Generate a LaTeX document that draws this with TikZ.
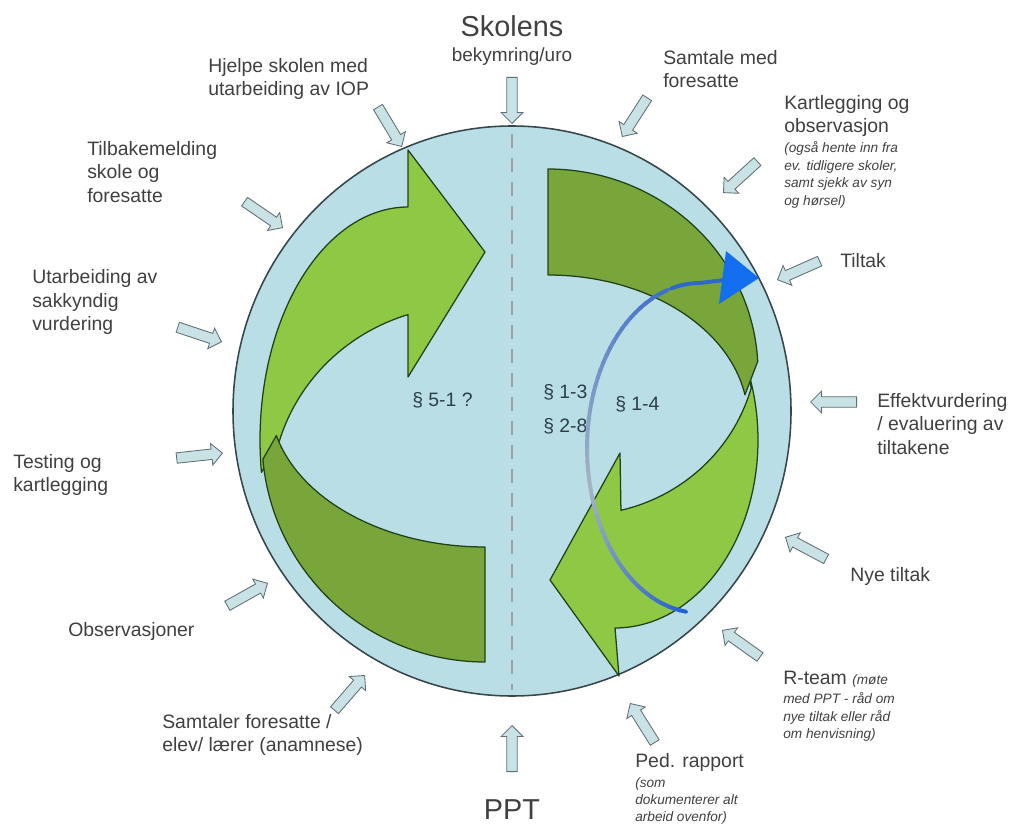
\documentclass[tikz,border=0pt]{standalone}
\usepackage{fontspec}
\setmainfont{Liberation Sans}
\usetikzlibrary{shapes.arrows,shapes.geometric}
\definecolor{circfill}{RGB}{185,222,230}
\definecolor{circline}{RGB}{55,70,72}
\definecolor{lgreen}{RGB}{143,200,68}
\definecolor{dgreen}{RGB}{120,166,58}
\definecolor{gline}{RGB}{35,65,25}
\definecolor{arrfill}{RGB}{200,226,230}
\definecolor{arrline}{RGB}{95,110,115}
\definecolor{txt}{RGB}{64,64,64}
\definecolor{partxt}{RGB}{45,62,72}
\definecolor{dashc}{RGB}{160,160,165}
\definecolor{arcblue}{RGB}{35,95,205}
\definecolor{arcgray}{RGB}{165,180,195}
\definecolor{headblue}{RGB}{20,110,240}
\begin{document}
\begin{tikzpicture}[x=0.025cm, y=-0.025cm,
  lbl/.style={font=\fontsize{13.8}{16.7}\selectfont, text=txt, align=left, inner sep=0pt, anchor=west},
  sml/.style={font=\fontsize{9.7}{12.4}\selectfont\itshape, text=txt, align=left, inner sep=0pt, anchor=west},
  big/.style={font=\fontsize{20.5}{24}\selectfont, text=txt, inner sep=0pt},
  mid/.style={font=\fontsize{13.5}{16}\selectfont, text=txt, inner sep=0pt},
  parag/.style={font=\fontsize{13.8}{16.7}\selectfont, text=partxt, inner sep=0pt, anchor=west},
  sarr/.style={single arrow, draw=arrline, fill=arrfill, line width=0.6pt, minimum height=1.15cm, inner xsep=0pt, inner ysep=0.12cm, single arrow head extend=0.14cm, anchor=tip, rotate=#1},
  grn/.style={draw=gline, line width=0.9pt, line join=round}]
\fill[white] (0,0) rectangle (1010,826);
\useasboundingbox (0,0) rectangle (1010,826);

% main circle
\node[draw=circline, fill=circfill, line width=1.1pt, ellipse, minimum width=558*0.025cm, minimum height=570*0.025cm, inner sep=0pt] (circ) at (512,411) {};
\draw[dashc, line width=1.8pt, dash pattern=on 10pt off 7pt] (512,134) coordinate (dtop) -- (512,690) coordinate (dbot);

% left light green arrow
\filldraw[grn, fill=lgreen] plot[domain=270:172,samples=60] ({408+148*cos(\x)},{440+233*sin(\x)})
  -- plot[domain=197:252.7,samples=40] ({466+195*cos(\x)},{496+190*sin(\x)})
  -- (408,377) -- (485,252) -- (408,150) -- cycle;
% left dark green
\filldraw[grn, fill=dgreen] plot[domain=175:90,samples=60] ({485+223*cos(\x)},{440+222*sin(\x)})
  -- plot[domain=90:166,samples=50] ({485+215*cos(\x)},{400+147*sin(\x)}) -- cycle;

% right light green arrow
\filldraw[grn, fill=lgreen] plot[domain=-20:90,samples=60] ({615+143*cos(\x)},{440+188*sin(\x)})
  -- (619,676) -- (550,580) -- (620,453)
  -- plot[domain=76.7:16,samples=40] ({580+178*cos(\x)},{340+175*sin(\x)}) -- cycle;
% right dark green
\filldraw[grn, fill=dgreen] plot[domain=270:357,samples=60] ({548+210*cos(\x)},{372+203*sin(\x)})
  -- plot[domain=-10:-90,samples=50] ({548+200*cos(\x)},{420+145*sin(\x)}) -- cycle;

% paragraph labels
\node[parag] (p51) at (412,400) {§ 5-1 ?};
\node[parag] (p13) at (543,392) {§ 1-3};
\node[parag] (p28) at (543,426) {§ 2-8};
\node[parag] (p14) at (615,404) {§ 1-4};

% blue cycle arrow with gradient
\foreach \a in {97,100,...,252} {
  \pgfmathtruncatemacro\pct{\a<165 ? (165-\a)/68*100 : (\a-165)/105*100}
  \draw[line width=2.8pt, line cap=round, color=arcblue!\pct!arcgray]
    ({700+113*cos(\a)},{448+165*sin(\a)}) -- ({700+113*cos(\a+3.5)},{448+165*sin(\a+3.5)});
}
\coordinate (bend) at (732,279);
\draw[line width=2.8pt, line cap=round, color=arcblue!90!arcgray] plot[domain=255:270,samples=10] ({700+113*cos(\x)},{448+165*sin(\x)}) -- (bend);
\fill[headblue] (726,251) coordinate (h1) -- (759,278) coordinate (h2) -- (719,304) coordinate (h3) -- cycle;

% small block arrows
\node[sarr=-90] (a1) at (512,124) {};
\node[sarr=-122.7] (a2) at (622,137) {};
\node[sarr=-137.6] (a3) at (723,193) {};
\node[sarr=-156.2] (a4) at (777,280) {};
\node[sarr=180] (a5) at (810,402) {};
\node[sarr=151.9] (a6) at (785,537) {};
\node[sarr=144.6] (a7) at (722,630) {};
\node[sarr=122] (a8) at (630,703) {};
\node[sarr=90] (a9) at (512,725) {};
\node[sarr=49.1] (a10) at (365,675) {};
\node[sarr=29.2] (a11) at (268,583) {};
\node[sarr=6.2] (a12) at (223,453) {};
\node[sarr=-18.4] (a13) at (222,342) {};
\node[sarr=-34.4] (a14) at (283,228) {};
\node[sarr=-59] (a15) at (402,147) {};

% texts
\node[big] (skolens) at (512,26) {Skolens};
\node[mid] (bekym) at (512,57) {bekymring/uro};
\node[big] (ppt) at (512,810) {PPT};
\node[lbl] (t1) at (208,79) {Hjelpe skolen med\\utarbeiding av IOP};
\node[lbl] (t2) at (87,172) {Tilbakemelding\\skole og\\foresatte};
\node[lbl] (t3) at (32,302) {Utarbeiding av\\sakkyndig\\vurdering};
\node[lbl] (t4) at (13,475) {Testing og\\kartlegging};
\node[lbl] (t5) at (68,631) {Observasjoner};
\node[lbl] (t6) at (162,735) {Samtaler foresatte /\\elev/ lærer (anamnese)};
\node[lbl] (t7) at (635,762) {Ped. rapport};
\node[sml] (t7b) at (635,801) {(som\\dokumenterer alt\\arbeid ovenfor)};
\node[lbl] (t8) at (783,679) {R-team {\fontsize{9.7}{12.4}\selectfont\itshape (møte}};
\node[sml] (t8b) at (783,717) {med PPT - råd om\\nye tiltak eller råd\\om henvisning)};
\node[lbl] (t9) at (850,576) {Nye tiltak};
\node[lbl] (t10) at (877,424) {Effektvurdering\\/ evaluering av\\tiltakene};
\node[lbl] (t11) at (840,261) {Tiltak};
\node[lbl] (t12) at (784,116) {Kartlegging og\\observasjon};
\node[sml] (t12b) at (784,175) {(også hente inn fra\\ev. tidligere skoler,\\samt sjekk av syn\\og hørsel)};
\node[lbl] (t13) at (663,69) {Samtale med\\foresatte};
\end{tikzpicture}
\end{document}
